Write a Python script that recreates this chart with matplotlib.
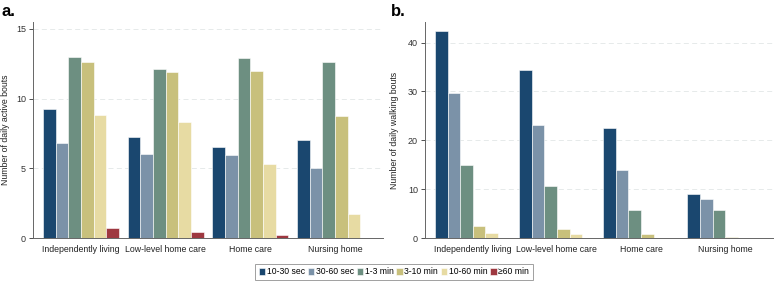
import numpy as np
import matplotlib
matplotlib.use("Agg")
import matplotlib.pyplot as plt

plt.rcParams["font.family"] = ["Liberation Sans", "DejaVu Sans"]

# categories and bout-length series
groups = ["Independently living", "Low-level home care", "Home care", "Nursing home"]
series = ["10-30 sec", "30-60 sec", "1-3 min", "3-10 min", "10-60 min", "\u226560 min"]
colors = ["#1a476f", "#7b92a8", "#6d8f81", "#c8c07c", "#e7dba3", "#9e3840"]

# panel a: daily active bouts (rows = series, cols = groups)
active = [
    [9.25, 7.25, 6.55, 7.0],
    [6.85, 6.0, 5.95, 5.0],
    [13.0, 12.1, 12.9, 12.6],
    [12.6, 11.9, 12.0, 8.75],
    [8.85, 8.3, 5.3, 1.75],
    [0.7, 0.45, 0.18, 0.0],
]

# panel b: daily walking bouts
walking = [
    [42.3, 34.3, 22.5, 9.1],
    [29.6, 23.2, 14.0, 8.0],
    [15.0, 10.6, 5.7, 5.8],
    [2.5, 1.9, 0.8, 0.3],
    [1.1, 0.8, 0.1, 0.05],
    [0.0, 0.0, 0.0, 0.0],
]

fig = plt.figure(figsize=(7.77, 2.82), dpi=100)
ax_a = fig.add_axes([33/777, 1-238/282, 350/777, 216/282])
ax_b = fig.add_axes([425/777, 1-238/282, 348/777, 216/282])

w = 0.15
x = np.arange(len(groups))

def draw_panel(ax, data, ymax, yticks, ylabel, labx):
    handles = []
    for i, vals in enumerate(data):
        pos = x - 0.45 + w/2 + i*w
        h = ax.bar(pos, vals, width=w, color=colors[i], edgecolor="white", linewidth=0.4, label=series[i])
        handles.append(h)
    ax.set_xlim(-0.568, 3.568)
    ax.set_ylim(0, ymax)
    ax.set_yticks(yticks)
    ax.set_xticks(x)
    ax.set_xticklabels(groups, fontsize=6.3, color="#222222")
    ax.tick_params(axis="x", length=0, pad=5)
    ax.tick_params(axis="y", labelsize=6.5, length=3, width=0.6, colors="#333333", pad=2)
    for yt in yticks[1:]:
        ax.axhline(yt, color="#e2e6e6", linewidth=0.6, linestyle=(0, (6, 4)), zorder=0)
    for s in ["top", "right"]:
        ax.spines[s].set_visible(False)
    for s in ["left", "bottom"]:
        ax.spines[s].set_color("#666666")
        ax.spines[s].set_linewidth(0.7)
    ax.set_ylabel(ylabel, fontsize=6.3, color="#222222")
    ax.yaxis.set_label_coords(labx, 0.5)
    return handles

handles = draw_panel(ax_a, active, 15.5, [0, 5, 10, 15], "Number of daily active bouts", -0.066)
draw_panel(ax_b, walking, 44.2, [0, 10, 20, 30, 40], "Number of daily walking bouts", -0.076)

fig.text(1/777, 1-11/282, "a.", fontsize=12, fontweight="bold", va="center")
fig.text(391/777, 1-11/282, "b.", fontsize=12, fontweight="bold", va="center")

leg = fig.legend(handles=handles, labels=series, loc="center", ncol=6,
                 bbox_to_anchor=(394/777, 1-272/282), fontsize=6.2,
                 handlelength=0.75, handleheight=0.9, handletextpad=0.2,
                 columnspacing=0.3, borderpad=0.4, borderaxespad=0,
                 frameon=True, fancybox=False)
leg.get_frame().set_edgecolor("#888888")
leg.get_frame().set_linewidth(0.7)

fig.savefig("out.png", dpi=100)
